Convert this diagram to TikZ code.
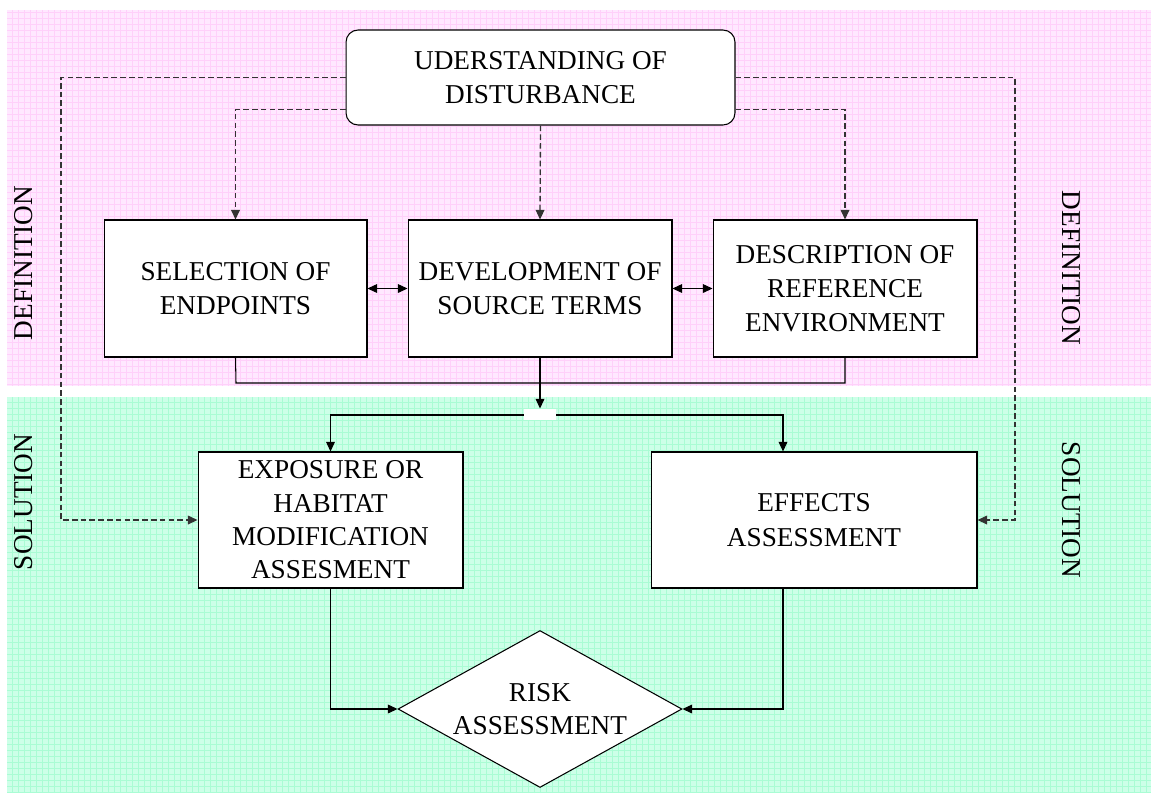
\documentclass[tikz,border=0pt]{standalone}
\usepackage{fontspec}
\setmainfont{Liberation Serif}
\usepackage{xcolor}
\usepackage{tikz}
\usetikzlibrary{arrows, arrows.meta, shapes.geometric}
\definecolor{defbg}{RGB}{255,232,255}
\definecolor{defgrid}{RGB}{255,208,250}
\definecolor{solbg}{RGB}{205,255,232}
\definecolor{solgrid}{RGB}{170,252,212}

\begin{document}
\begin{tikzpicture}[x=0.02cm, y=-0.02cm, line width=0.6pt,
  >={Triangle[length=5.5pt,width=5pt]}]
\tikzstyle{box}=[rectangle, draw, fill=white, align=center, inner sep=2pt,
  minimum height=2.74cm, font=\fontsize{15.5}{19.5}\selectfont]
\tikzstyle{rbox}=[box, rounded corners=0.24cm, minimum height=1.9cm]
\tikzstyle{decision}=[diamond, aspect=1.8, draw, fill=white, align=center, inner sep=0pt,
  minimum width=5.68cm, minimum height=3.14cm, font=\fontsize{15.5}{18.5}\selectfont]
\tikzstyle{side}=[font=\fontsize{15.5}{18}\selectfont, inner sep=0pt]
\tikzstyle{dashline}=[dash pattern=on 3.2pt off 1.8pt, line width=0.75pt, black!80]
\useasboundingbox (0,0) rectangle (1151,795);
% background bands
\fill[defbg] (7,10) rectangle (1151,386);
\draw[defgrid, line width=0.25pt, step=0.12cm] (7,10) grid (1151,386);
\fill[solbg] (7,397) rectangle (1151,793);
\draw[solgrid, line width=0.25pt, step=0.12cm] (7,397) grid (1151,793);
% side labels
\node[side, rotate=90] (defL) at (24,263) {DEFINITION};
\node[side, rotate=90] (solL) at (24,502) {SOLUTION};
\node[side, rotate=-90] (defR) at (1071,268) {DEFINITION};
\node[side, rotate=-90] (solR) at (1071,510) {SOLUTION};
% nodes
\node[rbox, minimum width=7.78cm] (ud) at (540.5,77.5) {UDERSTANDING OF\\DISTURBANCE};
\node[box, minimum width=5.26cm] (sel) at (235.5,288.5) {SELECTION OF\\ENDPOINTS};
\node[box, minimum width=5.28cm] (dev) at (540,288.5) {DEVELOPMENT OF\\SOURCE TERMS};
\node[box, minimum width=5.28cm] (desc) at (845,288.5) {DESCRIPTION OF\\REFERENCE\\ENVIRONMENT};
\node[box, minimum width=5.3cm, minimum height=2.72cm, font=\fontsize{15.5}{19}\selectfont] (exp) at (330.5,520)
  {EXPOSURE OR\\HABITAT\\MODIFICATION\\ASSESMENT};
\node[box, minimum width=6.52cm, minimum height=2.72cm] (eff) at (814,520) {EFFECTS\\ASSESSMENT};
\node[decision] (risk) at (540,709) {RISK\\ASSESSMENT};
\coordinate (lt) at (61,77.5);
\coordinate (rt) at (1015,77.5);
\coordinate (lj) at (236,383);
\coordinate (jn) at (540,415);
% dashed links from the top box
\draw[dashline, ->] (ud.west) -- (lt) |- (exp.west);
\draw[dashline, ->] (ud.east) -- (rt) |- (eff.east);
\draw[dashline, ->] ([yshift=0.32cm]ud.south west) -| (sel.north);
\draw[dashline, ->] ([yshift=0.32cm]ud.south east) -| (desc.north);
\draw[dashline, ->] (ud.south) -- (dev.north);
% links between the boxes
\path[<->] (sel) edge (dev)
           (dev) edge (desc);
\draw (sel.south) -- (lj) -| (desc.south);
\draw[->] (jn) -| (exp.north);
\draw[->] (jn) -| ([xshift=-0.62cm]eff.north);
\node[fill=white, minimum width=0.64cm, minimum height=0.22cm, inner sep=0pt] (gap) at (540,414.5) {};
\draw[->] (dev.south) -- (gap.north);
\draw[->] (exp.south) |- (risk.west);
\draw[->] ([xshift=-0.62cm]eff.south) |- (risk.east);
\end{tikzpicture}
\end{document}
